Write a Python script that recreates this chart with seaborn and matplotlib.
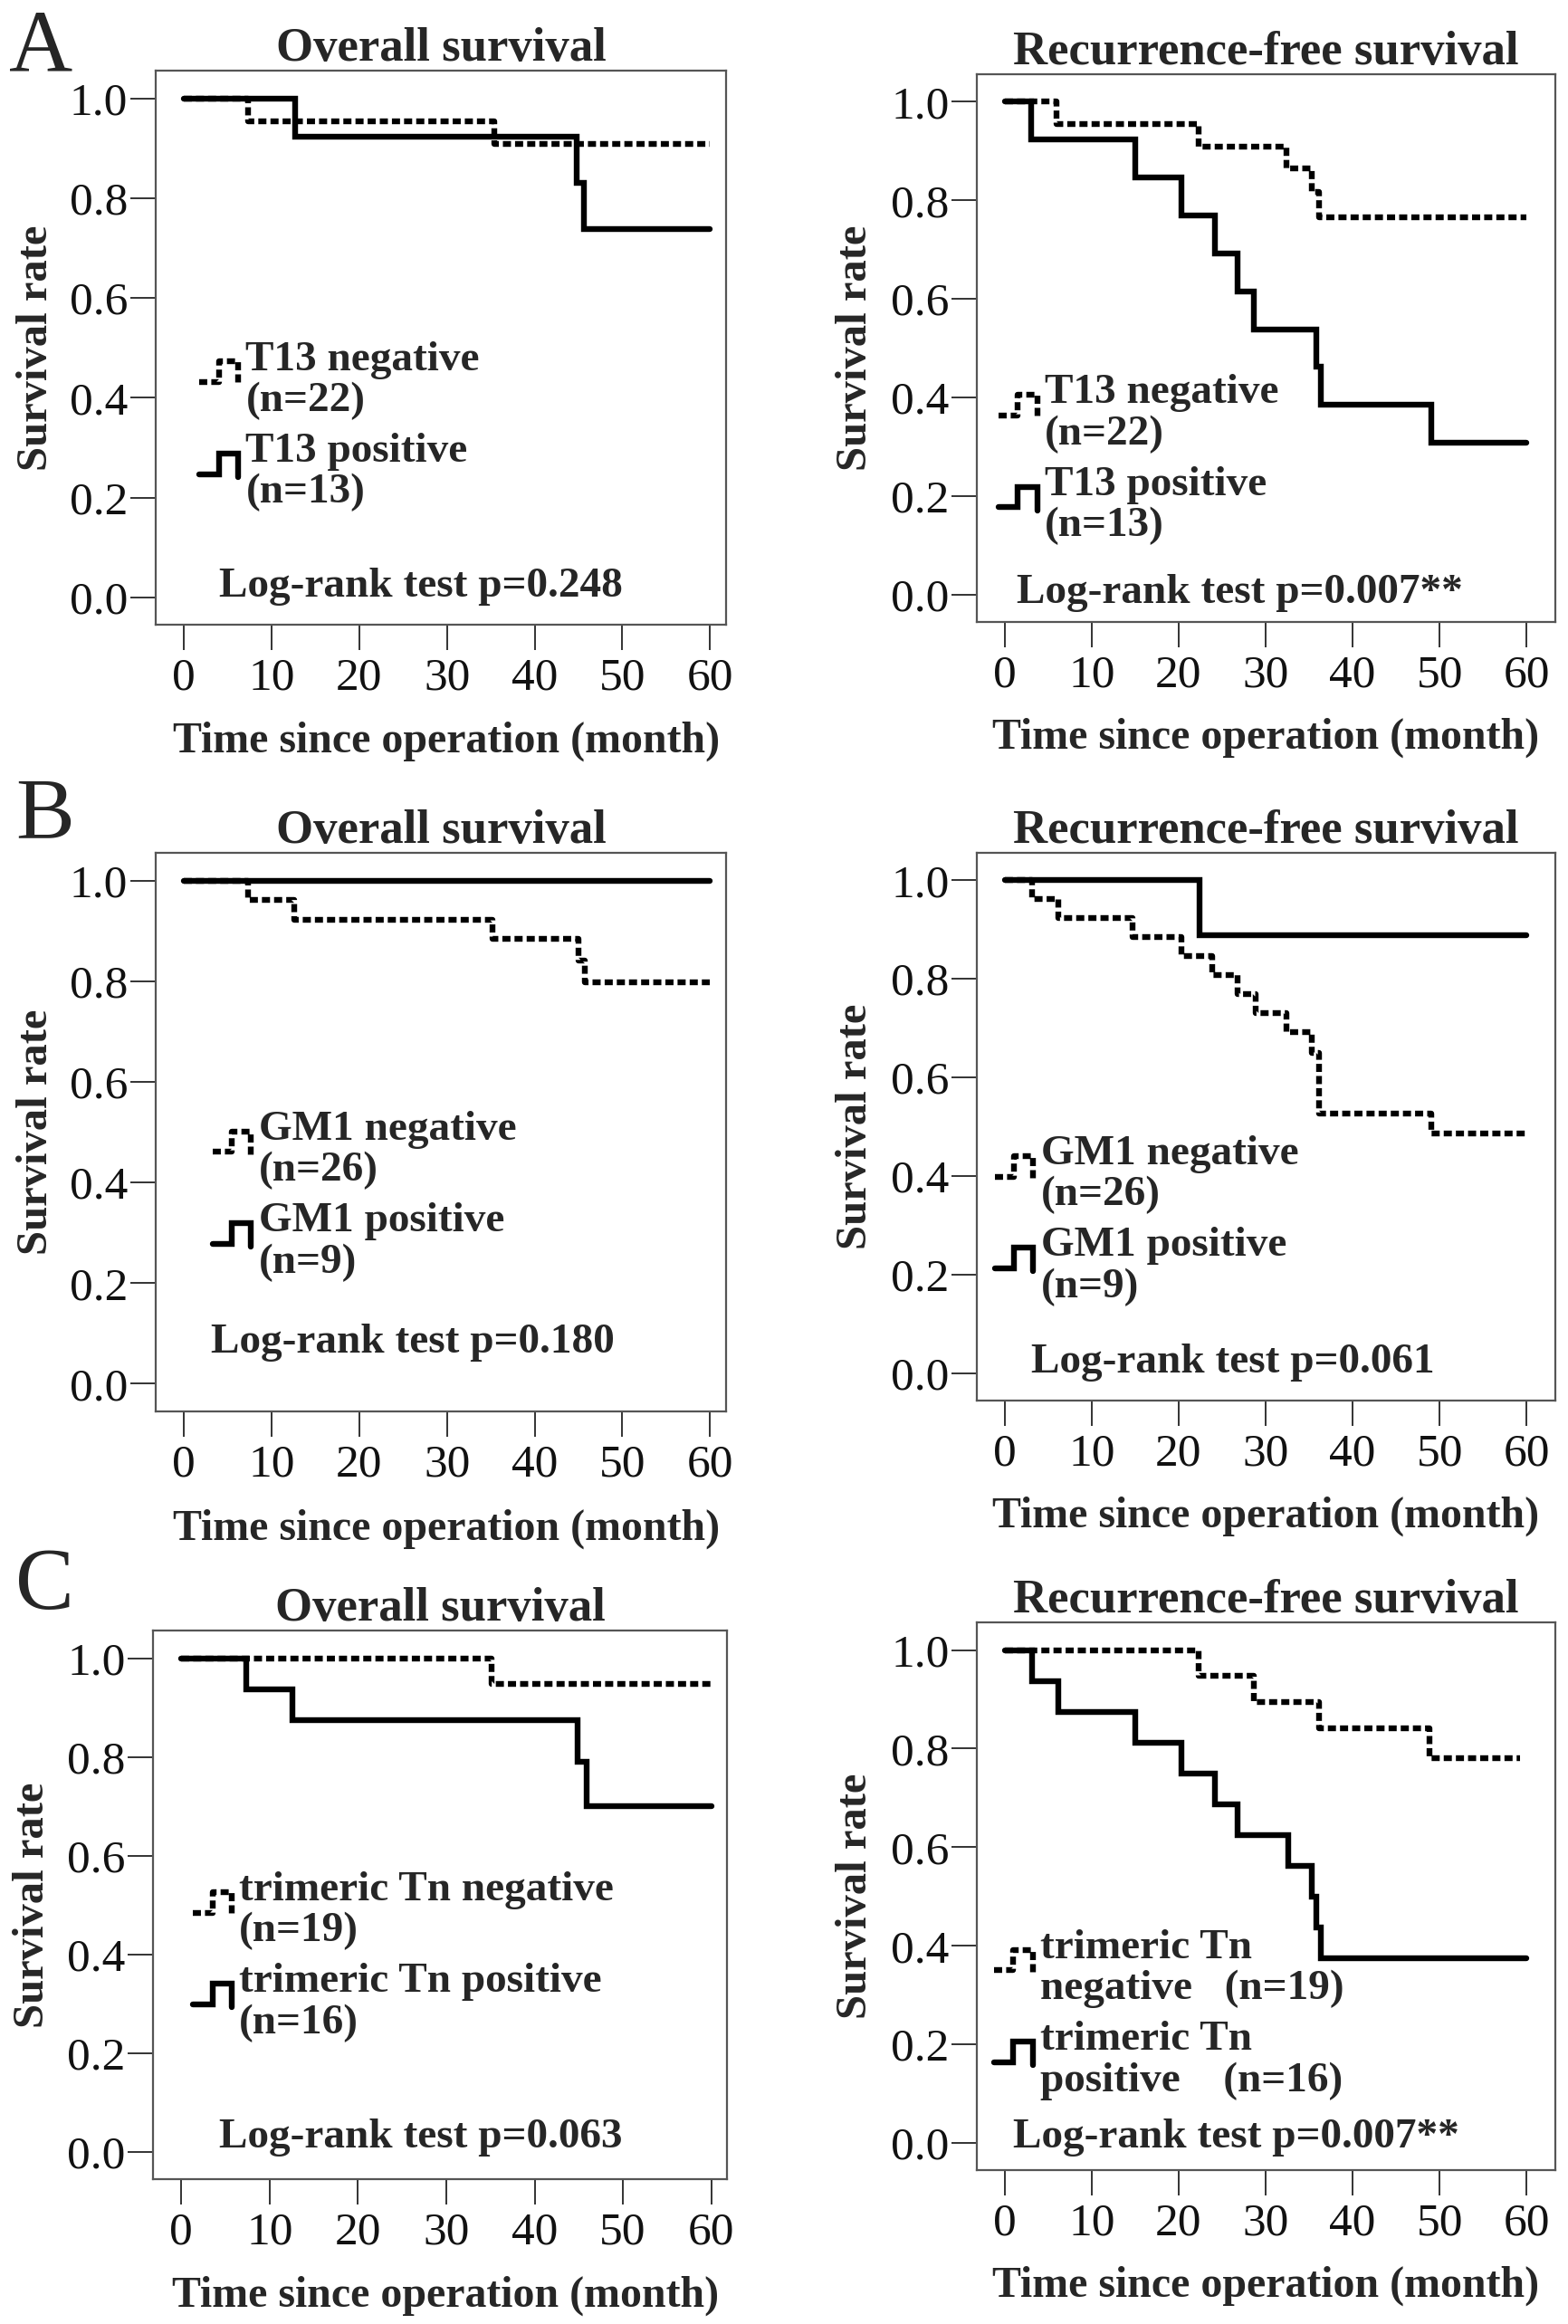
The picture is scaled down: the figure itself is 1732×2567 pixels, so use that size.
import numpy as np
import matplotlib
matplotlib.use('Agg')
import matplotlib.pyplot as plt
import seaborn as sns
from matplotlib.legend_handler import HandlerBase
from matplotlib.lines import Line2D

# ---- data (months, survival rate) ----
# A: T13
a_os_neg_t = [0, 7.3, 35.4, 60]
a_os_neg_s = [1.0, 0.955, 0.909, 0.909]
a_os_pos_t = [0, 12.7, 44.8, 45.6, 60]
a_os_pos_s = [1.0, 0.923, 0.831, 0.739, 0.739]
a_rfs_neg_t = [0, 6.0, 22.3, 32.4, 35.3, 36.1, 60]
a_rfs_neg_s = [1.0, 0.955, 0.909, 0.864, 0.818, 0.766, 0.766]
a_rfs_pos_t = [0, 3.0, 15.0, 20.3, 24.2, 26.8, 28.7, 35.8, 36.4, 49.1, 60]
a_rfs_pos_s = [1.0, 0.923, 0.846, 0.769, 0.692, 0.615, 0.538, 0.462, 0.385, 0.308, 0.308]

# B: GM1
b_os_neg_t = [0, 7.3, 12.6, 35.2, 45.0, 45.7, 60]
b_os_neg_s = [1.0, 0.962, 0.923, 0.885, 0.842, 0.798, 0.798]
b_os_pos_t = [0, 60]
b_os_pos_s = [1.0, 1.0]
b_rfs_neg_t = [0, 3.2, 6.2, 14.7, 20.3, 23.9, 26.8, 28.9, 32.4, 35.3, 36.1, 49.1, 60]
b_rfs_neg_s = [1.0, 0.962, 0.923, 0.885, 0.846, 0.808, 0.769, 0.731, 0.692, 0.65, 0.527, 0.487, 0.487]
b_rfs_pos_t = [0, 22.4, 60]
b_rfs_pos_s = [1.0, 0.889, 0.889]

# C: trimeric Tn
c_os_neg_t = [0, 35.1, 60]
c_os_neg_s = [1.0, 0.947, 0.947]
c_os_pos_t = [0, 7.4, 12.6, 44.9, 45.9, 60]
c_os_pos_s = [1.0, 0.9375, 0.875, 0.79, 0.70, 0.70]
c_rfs_neg_t = [0, 22.3, 28.7, 36.1, 48.8, 59.2]
c_rfs_neg_s = [1.0, 0.947, 0.895, 0.842, 0.78, 0.78]
c_rfs_pos_t = [0, 3.2, 6.2, 15.0, 20.3, 24.2, 26.8, 32.6, 35.3, 35.8, 36.4, 60]
c_rfs_pos_s = [1.0, 0.9375, 0.875, 0.8125, 0.75, 0.6875, 0.625, 0.5625, 0.5, 0.4375, 0.375, 0.375]

titles = ['Overall survival', 'Recurrence-free survival']
panel_letters = ['A', 'B', 'C']
x_ticks = [0, 10, 20, 30, 40, 50, 60]
y_ticks = [0.0, 0.2, 0.4, 0.6, 0.8, 1.0]
y_ticklabels = ['0.0', '0.2', '0.4', '0.6', '0.8', '1.0']

legend_labels = [
    [['T13 negative\n(n=22)', 'T13 positive\n(n=13)']] * 2,
    [['GM1 negative\n(n=26)', 'GM1 positive\n(n=9)']] * 2,
    [['trimeric Tn negative\n(n=19)', 'trimeric Tn positive\n(n=16)'],
     ['trimeric Tn\nnegative   (n=19)', 'trimeric Tn\npositive    (n=16)']],
]
pvalues = [
    ['Log-rank test p=0.248', 'Log-rank test p=0.007**'],
    ['Log-rank test p=0.180', 'Log-rank test p=0.061'],
    ['Log-rank test p=0.063', 'Log-rank test p=0.007**'],
]

curves = [
    [[(a_os_neg_t, a_os_neg_s), (a_os_pos_t, a_os_pos_s)],
     [(a_rfs_neg_t, a_rfs_neg_s), (a_rfs_pos_t, a_rfs_pos_s)]],
    [[(b_os_neg_t, b_os_neg_s), (b_os_pos_t, b_os_pos_s)],
     [(b_rfs_neg_t, b_rfs_neg_s), (b_rfs_pos_t, b_rfs_pos_s)]],
    [[(c_os_neg_t, c_os_neg_s), (c_os_pos_t, c_os_pos_s)],
     [(c_rfs_neg_t, c_rfs_neg_s), (c_rfs_pos_t, c_rfs_pos_s)]],
]

# ---- layout (figure fractions) ----
axes_rects = [
    [[0.0992, 0.7312, 0.3635, 0.2384], [0.6226, 0.7324, 0.3687, 0.2357]],
    [[0.0992, 0.3927, 0.3635, 0.2404], [0.6226, 0.3974, 0.3687, 0.2357]],
    [[0.0975, 0.0623, 0.3660, 0.2361], [0.6226, 0.0662, 0.3687, 0.2357]],
]
legend_pos = [
    [(0.077, 0.512), (0.038, 0.452)],
    [(0.100, 0.538), (0.031, 0.484)],
    [(0.070, 0.561), (0.030, 0.440)],
]
pvalue_pos = [
    [(0.465, 0.050), (0.454, 0.035)],
    [(0.451, 0.105), (0.443, 0.051)],
    [(0.467, 0.058), (0.449, 0.041)],
]
letter_pos = [(0.006, 1 - 78 / 2567), (0.010, 1 - 926 / 2567), (0.010, 1 - 1777 / 2567)]
xlims = [(-3.2, 61.8), (-3.2, 63.3)]


class StepHandler(HandlerBase):
    # legend key drawn as a little survival step
    def create_artists(self, legend, orig_handle, xdescent, ydescent,
                       width, height, fontsize, trans):
        xs = np.array([0.0, 0.5, 0.5, 1.0, 1.0]) * width - xdescent
        ys = np.array([0.4, 0.4, 1.25, 1.25, 0.28]) * height - ydescent
        line = Line2D(xs, ys)
        self.update_prop(line, orig_handle, legend)
        line.set_drawstyle('default')
        line.set_transform(trans)
        return [line]


sns.set_theme(style='ticks')
plt.rcParams['font.family'] = ['Liberation Serif', 'DejaVu Serif']

fig = plt.figure(figsize=(17.33, 25.67), dpi=100)

LW = 4.6
for r in range(3):
    for c in range(2):
        ax = fig.add_axes(axes_rects[r][c])
        (nt, ns), (pt, ps) = curves[r][c]
        sns.lineplot(x=nt, y=ns, ax=ax, drawstyle='steps-post', color='black',
                     lw=LW, dashes=False, linestyle=(0, (1.4, 0.7)),
                     estimator=None, sort=False)
        h_neg = ax.lines[-1]
        sns.lineplot(x=pt, y=ps, ax=ax, drawstyle='steps-post', color='black',
                     lw=LW, estimator=None, sort=False,
                     solid_joinstyle='miter')
        h_pos = ax.lines[-1]

        ax.set_xlim(*xlims[c])
        ax.set_ylim(-0.055, 1.056)
        ax.set_xticks(x_ticks)
        ax.set_yticks(y_ticks)
        ax.set_yticklabels(y_ticklabels)
        ax.tick_params(axis='both', direction='out', length=20, width=1.4,
                       color='#333333', labelsize=37, labelcolor='#111111',
                       bottom=True, left=True)
        ax.tick_params(axis='x', pad=6)
        ax.tick_params(axis='y', pad=2)
        for sp in ax.spines.values():
            sp.set_visible(True)
            sp.set_color('#555555')
            sp.set_linewidth(1.6)

        ax.set_title(titles[c], fontsize=38, fontweight='bold', pad=6)
        ax.set_xlabel('Time since operation (month)', fontsize=34.5, fontweight='bold')
        ax.set_ylabel('Survival rate', fontsize=35, fontweight='bold')
        ax.xaxis.set_label_coords(0.51 if c == 0 else 0.5, -0.175)
        ax.yaxis.set_label_coords(-0.175, 0.5)

        leg = ax.legend([h_neg, h_pos], legend_labels[r][c],
                        handler_map={Line2D: StepHandler()},
                        loc='upper left', bbox_to_anchor=legend_pos[r][c],
                        frameon=False, borderpad=0, borderaxespad=0,
                        handlelength=0.9, handleheight=0.5, handletextpad=0.18,
                        labelspacing=0.3,
                        prop={'size': 34, 'weight': 'bold'})
        for t in leg.get_texts():
            t.set_linespacing(1.09)

        ax.text(pvalue_pos[r][c][0], pvalue_pos[r][c][1], pvalues[r][c],
                transform=ax.transAxes, ha='center', va='baseline',
                fontsize=34, fontweight='bold')

    fig.text(letter_pos[r][0], letter_pos[r][1], panel_letters[r],
             fontsize=70, va='baseline', ha='left')

fig.savefig('out.png', dpi=100, facecolor='white')
